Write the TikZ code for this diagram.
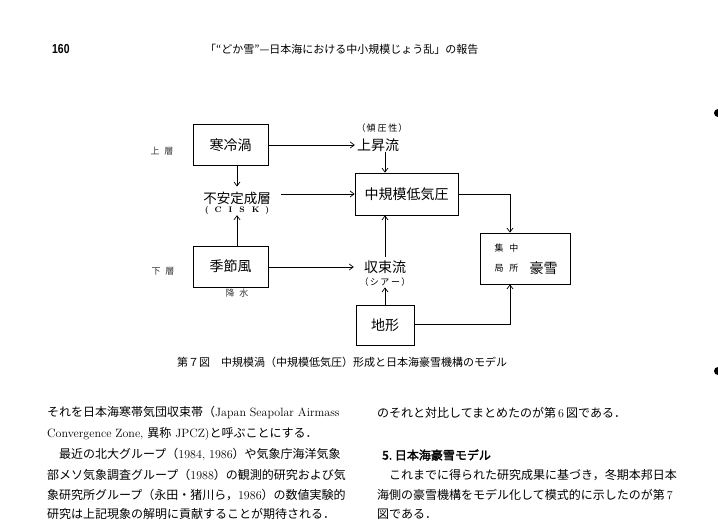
\documentclass[tikz,border=0pt]{standalone}
\usepackage{fontspec}
\usepackage{graphicx}
\newfontfamily\cjk[AutoFakeBold=2]{Noto Sans CJK JP}
\newfontfamily\hdrfont{Liberation Sans}
\usetikzlibrary{arrows.meta}
\begin{document}
\begin{tikzpicture}[x=1pt,y=-1pt,
  box/.style={draw, line width=0.8pt, inner sep=0pt, font=\cjk\fontsize{14}{14}\selectfont},
  lbl/.style={inner sep=0pt, font=\cjk\fontsize{14}{14}\selectfont},
  tiny/.style={inner sep=0pt, font=\cjk\fontsize{9}{9}\selectfont},
  arr/.style={line width=0.7pt, -{Straight Barb[length=4pt,width=6pt]}},
  body/.style={anchor=west, inner sep=0pt, font=\fontsize{12}{12}\selectfont},
]
\useasboundingbox (0,0) rectangle (718,522);
\fill[white] (0,0) rectangle (718,522);

% header
\node[anchor=west, inner sep=0pt, font=\hdrfont\bfseries\fontsize{13}{13}\selectfont] (pg) at (52,49) {\scalebox{0.8}[1]{160}};
\node[anchor=west, inner sep=0pt, font=\cjk\fontsize{11}{11}\selectfont] (title) at (205,49) {「“どか雪”—日本海における中小規模じょう乱」の報告};

% diagram boxes
\node[box, minimum width=75pt, minimum height=41pt] (kanrei) at (230.5,145) {寒冷渦};
\node[box, minimum width=75pt, minimum height=41pt] (kisetsu) at (230.5,266.5) {季節風};
\node[box, minimum width=103pt, minimum height=42pt] (chu) at (406.5,194) {中規模低気圧};
\node[box, minimum width=58pt, minimum height=40pt] (chikei) at (385,325) {地形};
\node[box, minimum width=90pt, minimum height=51pt] (gosetsu) at (525,258.5) {};
\node[tiny] (shuchu) at (506.5,248) {集\hspace{6pt}中};
\node[tiny] (kyokusho) at (506.5,268) {局\hspace{6pt}所};
\node[lbl] (gotxt) at (543.5,268) {豪雪};

% text labels
\node[lbl] (joushou) at (378,145) {上昇流};
\node[tiny] (keiatsu) at (382,128) {（\hspace{1pt}傾\hspace{2pt}圧\hspace{2pt}性\hspace{1pt}）};
\node[lbl, font=\cjk\fontsize{13.5}{13.5}\selectfont] (fuantei) at (237,198) {不安定成層};
\node[inner sep=0pt, font=\bfseries\fontsize{8}{8}\selectfont] (cisk) at (237,210) {(\hspace{6pt}C\hspace{7pt}I\hspace{7pt}S\hspace{7pt}K\hspace{6pt})};
\node[lbl] (shusoku) at (385,267) {収束流};
\node[tiny] (shear) at (385,282) {（\,シ\,ア\,ー\,）};
\node[tiny, text=black!80] (joso) at (162,151) {上\hspace{5pt}層};
\node[tiny, text=black!80] (kaso) at (163,271) {下\hspace{5pt}層};
\node[tiny, text=black!80] (kousui) at (237,293) {降\hspace{5pt}水};

% connectors
\draw[arr, shorten >=2pt] (kanrei.east) -- (joushou.west);
\draw[arr] ([xshift=7pt]joushou.south) -- ([xshift=7pt]joushou.south |- chu.north);
\draw[arr, shorten >=5pt] (kanrei.south -| fuantei.north) -- (fuantei.north);
\draw[arr, shorten >=1pt] (kisetsu.north -| cisk.south) -- (cisk.south);
\draw[arr] ([shift={(10pt,4pt)}]fuantei.east) -- (chu.west);
\draw[arr, shorten >=10pt] (kisetsu.east |- shusoku.west) -- (shusoku.west);
\draw[arr, shorten <=3pt] (shusoku.north) -- (shusoku.north |- chu.south);
\draw[arr, shorten >=1pt] (chikei.north) -- (shear.south);
\draw[arr] (chu.east) -| ([xshift=-15pt]gosetsu.north);
\draw[arr] ([yshift=1pt]chikei.east) -| ([xshift=-15pt]gosetsu.south);

% caption
\node[anchor=west, inner sep=0pt, font=\cjk\fontsize{11}{11}\selectfont] (cap) at (177,362) {第７図　中規模渦（中規模低気圧）形成と日本海豪雪機構のモデル};

% left column
\node[body] (l1) at (47,413) {{\cjk それを日本海寒帯気団収束帯（}Japan Seapolar Airmass};
\node[body] (l2) at (47,434) {Convergence Zone, {\cjk 異称} JPCZ){\cjk と呼ぶことにする．}};
\node[body] (l3) at (47,455) {{\cjk 　最近の北大グループ（}1984, 1986{\cjk ）や気象庁海洋気象}};
\node[body] (l4) at (47,475) {{\cjk 部メソ気象調査グループ（}1988{\cjk ）の観測的研究および気}};
\node[body] (l5) at (47,495) {{\cjk 象研究所グループ（永田・猪川ら，}1986{\cjk ）の数値実験的}};
\node[body] (l6) at (47,514) {{\cjk 研究は上記現象の解明に貢献することが期待される．}};

% right column
\node[body] (r1) at (377,413) {{\cjk のそれと対比してまとめたのが第}\,6\,{\cjk 図である．}};
\node[body, font=\cjk\bfseries\fontsize{12}{12}\selectfont] (r2) at (382,455) {5.~日本海豪雪モデル};
\node[body] (r3) at (377,475) {{\cjk 　これまでに得られた研究成果に基づき，冬期本邦日本}};
\node[body] (r4) at (377,495) {{\cjk 海側の豪雪機構をモデル化して模式的に示したのが第}\,7};
\node[body] (r5) at (377,514) {{\cjk 図である．}};

% punch holes at right edge
\fill[black] (718,113) circle (4);
\fill[black] (718,371) circle (4);
\end{tikzpicture}
\end{document}
